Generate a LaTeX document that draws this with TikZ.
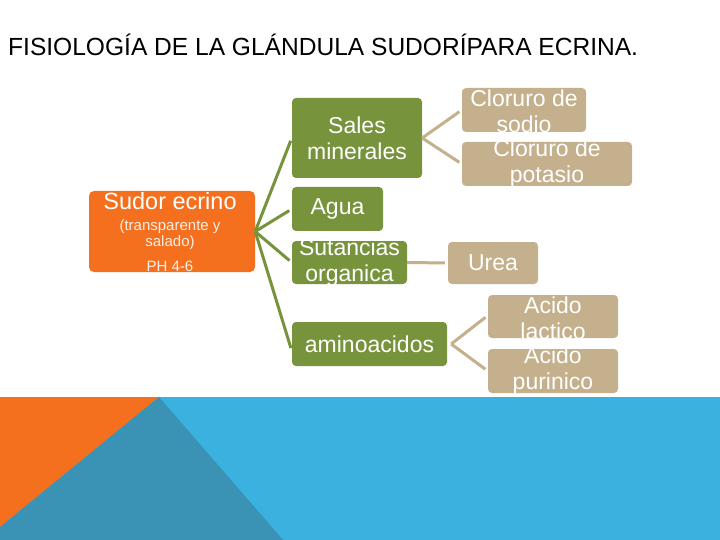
\documentclass[tikz,border=0pt]{standalone}
\usepackage{fontspec}
\setmainfont{Liberation Sans}
\newfontfamily\titlefont[FakeStretch=0.99]{Liberation Sans}
\definecolor{orng}{HTML}{F5701E}
\definecolor{grn}{HTML}{77933C}
\definecolor{tan}{HTML}{C4B08C}
\definecolor{blu}{HTML}{3BB1DF}
\definecolor{bandteal}{HTML}{3A93B4}
\newcommand\fsz[2]{\fontsize{#1}{#2}\selectfont}
\begin{document}
\begin{tikzpicture}[x=1pt,y=-1pt,
  obox/.style={fill=orng, rounded corners=5pt, inner sep=0pt},
  gbox/.style={fill=grn, rounded corners=4pt, inner sep=0pt},
  tbox/.style={fill=tan, rounded corners=4pt, inner sep=0pt},
  txt/.style={text=white, align=center, inner sep=0pt, font=\fsz{23}{26}},
  small/.style={text=white!88!orng, inner sep=0pt, anchor=base, font=\fsz{15}{17}},
  gline/.style={draw=grn, line width=3pt, shorten >=3pt},
  tline/.style={draw=tan, line width=3pt, shorten >=3pt}]
\useasboundingbox (0,0) rectangle (720,540);
\fill[white] (0,0) rectangle (720,540);
% bottom band
\fill[blu] (0,397) rectangle (720,540);
\fill[orng] (0,397) -- (159,397) -- (0,527) -- cycle;
\fill[bandteal] (159,397) -- (0,527) -- (0,540) -- (283,540) -- cycle;
% title
\node[anchor=base west, inner sep=0pt, font=\titlefont\fsz{24.8}{28}] (title) at (8,56) {FISIOLOGÍA DE LA GLÁNDULA SUDORÍPARA ECRINA.};
% root
\node[obox, minimum width=166pt, minimum height=81pt] (sudor) at (172,231.5) {};
\node[anchor=base, text=white, inner sep=0pt, font=\fsz{23.5}{26}] (sudorT) at (170,210) {Sudor ecrino};
\node[small] (sudorA) at (170,230) {(transparente y};
\node[small] (sudorB) at (170,246) {salado)};
\node[small] (sudorC) at (170,271) {PH 4-6};
% green boxes
\node[gbox, minimum width=130pt, minimum height=80pt] (sales) at (357,138) {};
\node[txt] (salesT) at (sales) {Sales\\minerales};
\node[gbox, minimum width=91pt, minimum height=44pt] (agua) at (337.5,209) {};
\node[txt] (aguaT) at (agua) {Agua};
\node[gbox, minimum width=115pt, minimum height=43pt] (sut) at (349.5,262.5) {};
\node[txt] (sutT) at (sut) {Sutancias\\organica};
\node[gbox, minimum width=155pt, minimum height=44pt] (amino) at (369.5,344) {};
\node[txt] (aminoT) at (amino) {aminoacidos};
% tan boxes
\node[tbox, minimum width=124pt, minimum height=44pt] (sodio) at (524,110) {};
\node[txt] (sodioT) at (524,111) {Cloruro de\\sodio};
\node[tbox, minimum width=170pt, minimum height=44pt] (potasio) at (547,164) {};
\node[txt] (potasioT) at (547,164) {Cloruro de\\potasio};
\node[tbox, minimum width=90pt, minimum height=42pt] (urea) at (493,263) {};
\node[txt] (ureaT) at (urea) {Urea};
\node[tbox, minimum width=130pt, minimum height=43pt] (lactico) at (553,316.5) {};
\node[txt] (lacticoT) at (553,318) {Acido\\lactico};
\node[tbox, minimum width=130pt, minimum height=44pt] (purinico) at (553,371) {};
\node[txt] (purinicoT) at (553,371) {Acido\\purinico};
% connectors
\draw[gline] (sudor.east) -- (sales.west);
\draw[gline] (sudor.east) -- (agua.west);
\draw[gline] (sudor.east) -- (sut.west);
\draw[gline] (sudor.east) -- ([yshift=-7pt]amino.west);
\draw[tline] (sales.east) -- (sodio.west);
\draw[tline] (sales.east) -- (potasio.west);
\draw[tline] (sut.east) -- (urea.west);
\draw[tline] ([xshift=4pt]amino.east) -- ([yshift=1pt]lactico.west);
\draw[tline] ([xshift=4pt]amino.east) -- (purinico.west);
\end{tikzpicture}
\end{document}
